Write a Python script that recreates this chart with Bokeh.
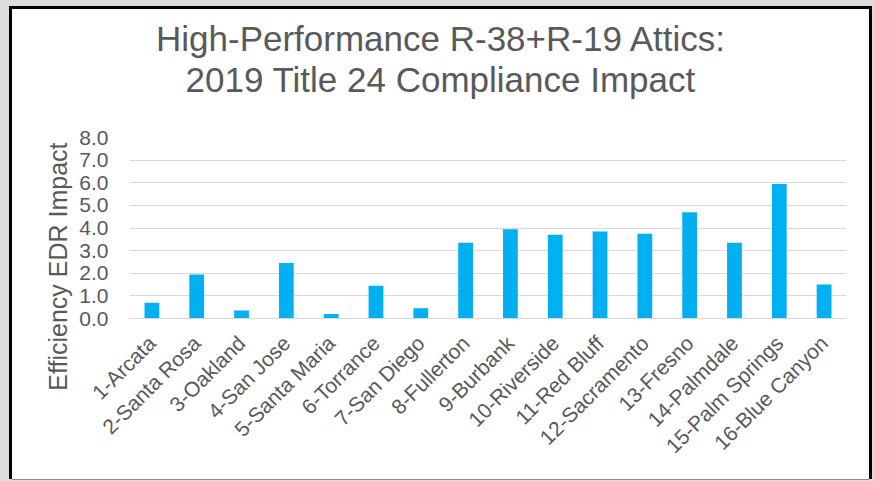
import math
from bokeh.plotting import figure
from bokeh.models import FactorRange, Title, FixedTicker, CustomJSTickFormatter
from bokeh.embed import file_html
from bokeh.resources import INLINE

categories = ["1-Arcata", "2-Santa Rosa", "3-Oakland", "4-San Jose", "5-Santa Maria",
              "6-Torrance", "7-San Diego", "8-Fullerton", "9-Burbank", "10-Riverside",
              "11-Red Bluff", "12-Sacramento", "13-Fresno", "14-Palmdale",
              "15-Palm Springs", "16-Blue Canyon"]
values = [0.7, 1.95, 0.35, 2.45, 0.2, 1.45, 0.45, 3.35, 3.95, 3.7,
          3.85, 3.75, 4.7, 3.35, 5.95, 1.5]
y_ticks = [0, 1, 2, 3, 4, 5, 6, 7, 8]
title_lines = ["High-Performance R-38+R-19 Attics:", "2019 Title 24 Compliance Impact"]
y_title = "Efficiency  EDR Impact"

W, H = 857, 470
FONT = "Liberation Sans"
TXT = "#595959"

p = figure(width=W, height=H, x_range=FactorRange(*categories, range_padding=0),
           y_range=(0, 8), output_backend="svg", toolbar_location=None,
           min_border_left=117, min_border_right=23, min_border_top=128,
           min_border_bottom=161, title=None)
p.border_fill_color = "white"
p.background_fill_color = "white"
p.outline_line_color = None
p.styles = {"margin": "9px 0 0 12px",
            "box-shadow": ("-3px -3px 0 0 #000, 3px -3px 0 0 #000, -3px 0 0 0 #000, "
                           "3px 0 0 0 #000, 0 1px 0 0 #8c8c8c, 0 0 0 40px #dcdcdc")}

p.vbar(x=categories, top=values, width=0.33, fill_color="#00B0F0", line_color=None)

p.xgrid.grid_line_color = None
p.ygrid.grid_line_color = "#d9d9d9"
p.ygrid.grid_line_width = 1.2
p.yaxis.ticker = FixedTicker(ticks=y_ticks)
p.yaxis.formatter = CustomJSTickFormatter(code="return tick.toFixed(1);")

for ax in (p.xaxis[0], p.yaxis[0]):
    ax.major_tick_line_color = None
    ax.minor_tick_line_color = None
    ax.major_tick_out = 0
    ax.major_tick_in = 0
    ax.major_label_text_font = FONT
    ax.major_label_text_color = TXT
p.yaxis.axis_line_color = None
p.yaxis.major_label_standoff = 21
p.yaxis.major_label_text_font_size = "21px"
p.xaxis.axis_line_color = "#d9d9d9"
p.xaxis.axis_line_width = 1.2
p.xaxis.major_label_orientation = math.pi / 4
p.xaxis.major_label_standoff = 21
p.xaxis.major_label_text_font_size = "21px"

# chart title: line 2 (nearer the plot; trailing empty line gives the gap above
# the plot area), then line 1
p.add_layout(Title(text=title_lines[1] + "\n", align="left", offset=56,
                   vertical_align="bottom", standoff=0, text_font=FONT,
                   text_font_size="35px", text_font_style="normal", text_color=TXT), "above")
p.add_layout(Title(text=title_lines[0], align="left", offset=26.5, vertical_align="bottom",
                   standoff=0, text_font=FONT, text_font_size="35px",
                   text_font_style="normal", text_color=TXT), "above")

# y axis title
p.add_layout(Title(text=y_title, align="right", offset=-2, vertical_align="bottom",
                   standoff=10, text_font=FONT, text_font_size="25px",
                   text_font_style="normal", text_color=TXT), "left")

open("out.html", "w").write(file_html(p, INLINE))
